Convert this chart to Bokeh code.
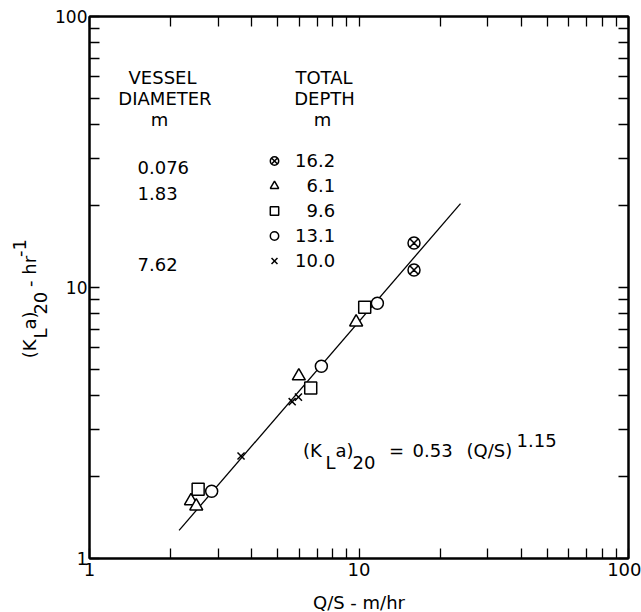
import math
from bokeh.plotting import figure
from bokeh.layouts import row
from bokeh.models import (Label, LogAxis, FixedTicker, Legend, LegendItem,
                          CustomJSTickFormatter, Range1d)
from bokeh.embed import file_html
from bokeh.resources import INLINE

# ---------------- data ----------------
major_ticks = [1, 10, 100]
tick_labels = ["1", "10", "100"]

# total depth 16.2 m (vessel diameter 0.076 m)
d162_x = [16.0, 16.0]
d162_y = [14.6, 11.6]
# total depth 6.1 m (vessel diameter 1.83 m)
d61_x = [2.38, 2.49, 5.98, 9.76]
d61_y = [1.63, 1.56, 4.71, 7.45]
# total depth 9.6 m (vessel diameter 1.83 m)
d96_x = [2.53, 6.62, 10.5]
d96_y = [1.80, 4.26, 8.46]
# total depth 13.1 m (vessel diameter 1.83 m)
d131_x = [2.84, 7.25, 11.7]
d131_y = [1.77, 5.12, 8.75]
# total depth 10.0 m (vessel diameter 7.62 m)
d100_x = [3.65, 5.65, 5.96]
d100_y = [2.39, 3.79, 3.94]

# fitted line (KLa)20 = 0.53 (Q/S)^1.15, end points
fit_x = [2.15, 23.8]
fit_y = [1.27, 20.4]

diameters = ["0.076", "1.83", "7.62"]
depth_labels = ["16.2", "\u20076.1", "\u20079.6", "13.1", "10.0"]

# ---------------- layout ----------------
W, H = 641, 612
LW = 51                       # width of the strip holding the y-axis title
FL, FR, FT, FB = 89, 628, 16, 558
FONT = "DejaVu Sans"
FS = "18px"


def px(xp, yp):
    """page pixel -> data coordinates of the main (log) plot"""
    return (10 ** (2.0 * (xp - FL) / (FR - FL)),
            10 ** (2.0 * (FB - yp) / (FB - FT)))


p = figure(x_axis_type="log", y_axis_type="log",
           x_range=(1, 100), y_range=(1, 100),
           frame_width=FR - FL, frame_height=FB - FT,
           min_border_left=FL - LW, min_border_right=W - FR,
           min_border_top=FT, min_border_bottom=H - FB,
           toolbar_location=None, output_backend="svg")
p.background_fill_color = "white"
p.border_fill_color = "white"
p.outline_line_color = "black"
p.outline_line_width = 2
p.xgrid.visible = False
p.ygrid.visible = False

minor = [m * 10 ** e for e in (0, 1) for m in range(2, 10)]


def style(ax):
    ax.ticker = FixedTicker(ticks=major_ticks, minor_ticks=minor)
    ax.axis_line_width = 2
    ax.axis_line_color = "black"
    ax.major_tick_in = 10
    ax.major_tick_out = 0
    ax.minor_tick_in = 10
    ax.minor_tick_out = 0
    ax.major_tick_line_width = 1.3
    ax.minor_tick_line_width = 1.3
    ax.major_tick_line_color = "black"
    ax.minor_tick_line_color = "black"
    ax.major_label_text_font = FONT
    ax.major_label_text_font_size = FS
    ax.major_label_text_color = "black"


style(p.xaxis[0])
style(p.yaxis[0])
p.xaxis[0].major_label_standoff = 4
p.yaxis[0].major_label_standoff = 2
p.yaxis[0].major_label_text_font_size = "17px"
for ax in (p.xaxis[0], p.yaxis[0]):
    ax.major_label_overrides = {float(t): l for t, l in zip(major_ticks, tick_labels)}

p.xaxis[0].axis_label = "Q/S - m/hr"
p.xaxis[0].axis_label_text_font = FONT
p.xaxis[0].axis_label_text_font_size = FS
p.xaxis[0].axis_label_text_font_style = "normal"
p.xaxis[0].axis_label_text_color = "black"
p.xaxis[0].axis_label_standoff = 13

for place in ("above", "right"):
    ax = LogAxis(formatter=CustomJSTickFormatter(code="return ''"))
    style(ax)
    ax.major_label_text_font_size = "1px"
    ax.major_label_standoff = 0
    p.add_layout(ax, place)

# fitted line
p.line(fit_x, fit_y, line_color="black", line_width=1.3)

common = dict(fill_color="white", line_color="black", line_width=1.5)
r162 = p.scatter(d162_x, d162_y, marker="circle_x", size=12, **common)
r61 = p.scatter(d61_x, d61_y, marker="triangle", size=13, **common)
r96 = p.scatter(d96_x, d96_y, marker="square", size=12, **common)
r131 = p.scatter(d131_x, d131_y, marker="circle", size=12, **common)
r100 = p.scatter(d100_x, d100_y, marker="x", size=10, line_color="black", line_width=1.5)

legend = Legend(
    items=[LegendItem(label=l, renderers=[r])
           for l, r in zip(depth_labels, [r162, r61, r96, r131, r100])],
    location=(263 - FL, FB - 270.5),
    orientation="vertical",
    glyph_width=22, glyph_height=21, label_height=21,
    label_standoff=10, spacing=4, padding=0, margin=0,
    border_line_color=None, background_fill_alpha=0,
    label_text_font=FONT, label_text_font_size=FS, label_text_color="black",
)
p.add_layout(legend)


def text(fig, t, x, y, align="left", angle=0.0):
    fig.add_layout(Label(x=x, y=y, text=t, text_font=FONT, text_font_size=FS,
                         text_color="black", text_align=align,
                         text_baseline="alphabetic", angle=angle))


def ptext(t, xp, yp, align="left"):
    x, y = px(xp, yp)
    text(p, t, x, y, align)


# headers
ptext("VESSEL", 162, 76.5, "center")
ptext("DIAMETER", 164.5, 98, "center")
ptext("m", 159, 119, "center")
ptext("TOTAL", 323.5, 76.5, "center")
ptext("DEPTH", 324, 98, "center")
ptext("m", 322, 119, "center")

# vessel diameters
for t, yb in zip(diameters, [166.5, 192.5, 263.5]):
    ptext(t, 137, yb)

# equation
ptext("(K", 302.5, 450)
ptext("L", 325, 462)
ptext("a)", 335, 450)
ptext("20", 352, 462)
ptext("=", 396, 450, "center")
ptext("0.53", 412, 450)
ptext("(Q/S)", 466, 450)
ptext("1.15", 516, 440)

# ---------------- y-axis title strip ----------------
s = figure(width=LW, height=H, x_range=Range1d(0, LW), y_range=Range1d(H, 0),
           min_border=0, toolbar_location=None, output_backend="svg",
           x_axis_location=None, y_axis_location=None)
s.outline_line_color = None
s.xgrid.visible = False
s.ygrid.visible = False
s.background_fill_color = "white"
s.border_fill_color = "white"

A = math.pi / 2
text(s, "(K", 29, 388, angle=A)
text(s, "L", 40, 365.5, angle=A)
text(s, "a)", 29, 355.5, angle=A)
text(s, "20", 40, 338.5, angle=A)
text(s, "- hr", 29, 307, angle=A)
text(s, "-1", 19, 273, angle=A)

layout = row(s, p, spacing=0)
open("out.html", "w").write(file_html(layout, INLINE))
